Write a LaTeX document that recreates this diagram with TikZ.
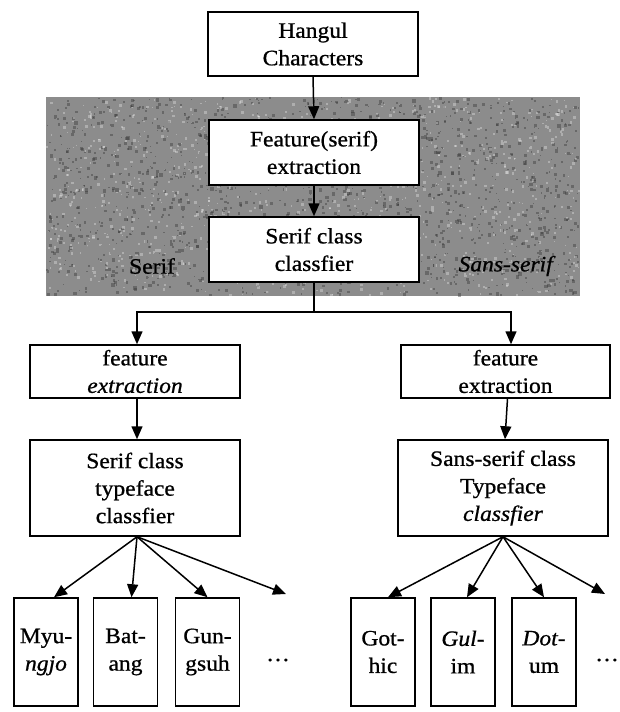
\documentclass[tikz,border=0pt]{standalone}
\usepackage{fontspec}
\setmainfont{Liberation Serif}[FakeStretch=1.07,FakeBold=0.8]
\usetikzlibrary{arrows.meta}
\begin{document}
\begin{tikzpicture}[x=1pt,y=-1pt,
  font=\fontsize{22}{27.5}\selectfont,
  box/.style={draw, line width=1.5pt, fill=white, align=center, inner sep=0pt},
  bigbox/.style={box, minimum width=210pt},
  smallbox/.style={box, minimum width=64pt, minimum height=108pt},
  arr/.style={line width=1.5pt, -{Triangle[length=13pt,width=11pt]}},
  ln/.style={line width=1.5pt},
  lbl/.style={inner sep=0pt}]
\useasboundingbox (0,0) rectangle (620,712);
\fill[fill={rgb,255:red,140;green,140;blue,140}] (46,97) rectangle (580,296);
\pgfmathsetseed{11}
\begin{scope}
\clip (46,97) rectangle (580,296);
\foreach \i in {1,...,1600}{
  \pgfmathsetmacro{\px}{46+rnd*532}
  \pgfmathsetmacro{\py}{97+rnd*197}
  \pgfmathsetmacro{\ps}{1+rnd*2.5}
  \fill[black!80, opacity=0.4] (\px,\py) rectangle ++(\ps,\ps);
}
\foreach \i in {1,...,1000}{
  \pgfmathsetmacro{\px}{46+rnd*532}
  \pgfmathsetmacro{\py}{97+rnd*197}
  \pgfmathsetmacro{\ps}{1+rnd*2}
  \fill[white, opacity=0.3] (\px,\py) rectangle ++(\ps,\ps);
}
\end{scope}

\node[bigbox, minimum height=64pt] (hang) at (313,44) {Hangul\\Characters};
\node[bigbox, minimum height=65pt] (feat) at (314,152.5) {Feature(serif)\\extraction};
\node[bigbox, minimum height=65pt] (scls) at (314,249.5) {Serif class\\classfier};
\node[lbl] (lserif) at (152,266) {Serif};
\node[lbl] (lsans) at (507,266) {\textit{Sans-serif}};

\node[bigbox, minimum height=53pt] (lfe) at (135,371.5) {feature\\\textit{extraction}};
\node[bigbox, minimum width=209pt, minimum height=53pt] (rfe) at (505.5,371.5) {feature\\extraction};
\node[bigbox, minimum height=96pt] (ltc) at (135,488) {Serif class\\typeface\\classfier};
\node[bigbox, minimum height=96pt] (rtc) at (503,488) {Sans-serif class\\Typeface\\\textit{classfier}};

\node[smallbox] (myu) at (46,652) {Myu-\\\textit{ngjo}};
\node[smallbox] (bat) at (125.5,652) {Bat-\\ang};
\node[smallbox] (gun) at (207.5,652) {Gun-\\gsuh};
\node[lbl] (ld) at (278,660) {\dots};
\node[smallbox] (got) at (383,652) {Got-\\hic};
\node[smallbox] (gul) at (463,652) {\textit{Gul-}\\im};
\node[smallbox] (dot) at (544,652) {\textit{Dot-}\\um};
\node[lbl] (rd) at (607,660) {\dots};

\draw[arr] (hang.south) -- (feat.north);
\draw[arr] (feat.south) -- (scls.north);
\coordinate (br) at (314,312);
\draw[ln] (scls.south) -- (br);
\draw[arr] (br) -| ([xshift=2pt]lfe.north);
\draw[arr] (br) -| ([xshift=5.5pt]rfe.north);
\draw[arr] ([xshift=2pt]lfe.south) -- ([xshift=2pt]ltc.north);
\draw[arr] ([xshift=2pt]rfe.south) -- ([xshift=2pt]rtc.north);

\coordinate (le) at (286,594);
\coordinate (re) at (605,594);
\draw[arr] ([xshift=2pt]ltc.south) -- ([xshift=8pt]myu.north);
\draw[arr] ([xshift=2pt]ltc.south) -- ([xshift=6pt]bat.north);
\draw[arr] ([xshift=2pt]ltc.south) -- (gun.north);
\draw[arr] ([xshift=2pt]ltc.south) -- (le);
\draw[arr] (rtc.south) -- ([xshift=5pt]got.north);
\draw[arr] (rtc.south) -- ([xshift=4pt]gul.north);
\draw[arr] (rtc.south) -- (dot.north);
\draw[arr] (rtc.south) -- (re);
\end{tikzpicture}
\end{document}
